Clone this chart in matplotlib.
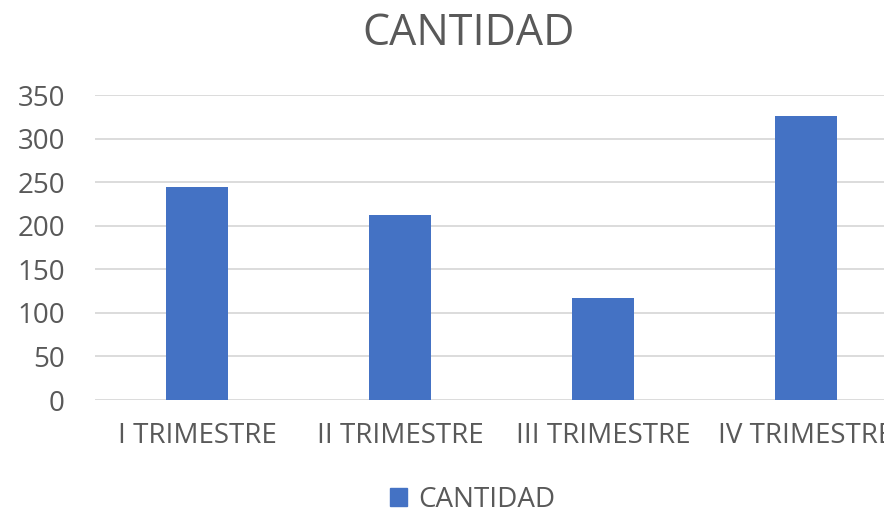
import matplotlib
matplotlib.use("Agg")
import matplotlib.pyplot as plt
from matplotlib.patches import Patch

# data
trimestres = ["I TRIMESTRE", "II TRIMESTRE", "III TRIMESTRE", "IV TRIMESTRE"]
cantidad = [244, 212, 117, 326]
y_ticks = [0, 50, 100, 150, 200, 250, 300, 350]

plt.rcParams['font.family'] = ['Open Sans', 'DejaVu Sans']
text_color = '#595959'
bar_color = '#4472C4'

fig = plt.figure(figsize=(8.84, 5.15), dpi=100)
ax = fig.add_axes([0.108, 0.2233, 0.9186, 0.5922])

x = range(len(trimestres))
ax.bar(x, cantidad, width=0.31, color=bar_color, zorder=3)

ax.set_xlim(-0.5, 3.5)
ax.set_ylim(0, 350)
ax.set_yticks(y_ticks)
ax.set_xticks(list(x))
ax.set_xticklabels(trimestres)
ax.grid(axis='y', color='#D9D9D9', linewidth=1.3, zorder=0)
for s in ['top', 'right', 'left', 'bottom']:
    ax.spines[s].set_visible(False)
ax.tick_params(axis='both', length=0, labelsize=20, labelcolor=text_color)
ax.tick_params(axis='y', pad=22)
ax.tick_params(axis='x', pad=16)

fig.text(0.53, 0.935, "CANTIDAD", ha='center', va='center', fontsize=31, color=text_color)

fig.legend(handles=[Patch(color=bar_color, label="CANTIDAD")], loc='center',
           bbox_to_anchor=(0.535, 0.03), frameon=False, fontsize=20,
           handlelength=0.6, handleheight=0.6, handletextpad=0.4, labelcolor=text_color)

fig.savefig("out.png", dpi=100)
